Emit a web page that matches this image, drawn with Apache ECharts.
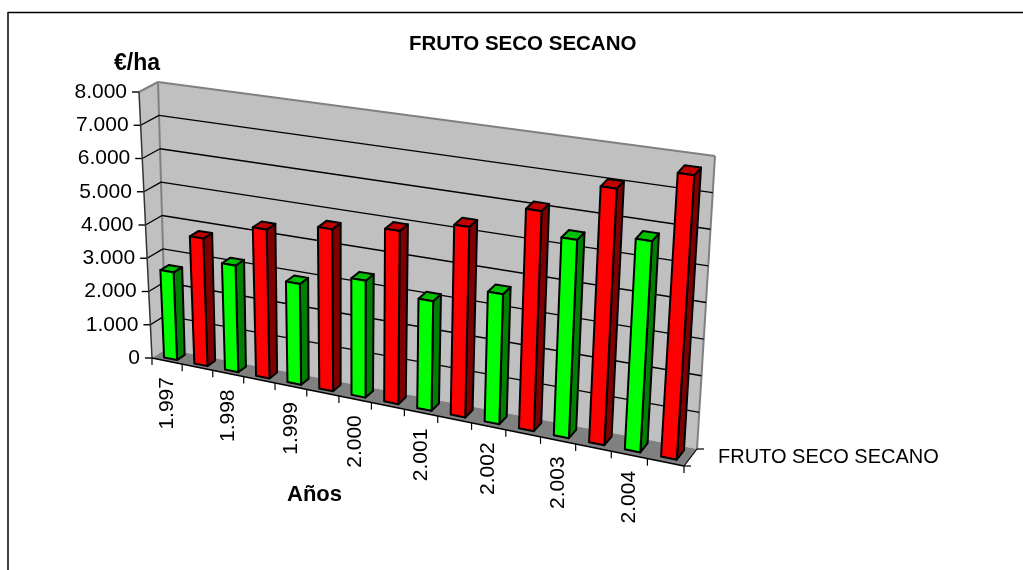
<!DOCTYPE html>
<html>
<head>
<meta charset="utf-8">
<title>FRUTO SECO SECANO</title>
<style>
  html, body { margin: 0; padding: 0; background: #fff; }
  #chart { width: 1023px; height: 570px; }
</style>
<script src="https://cdn.jsdelivr.net/npm/echarts@6/dist/echarts.min.js"></script>
</head>
<body>
<div id="chart"></div>
<script>
const chartTitle = 'FRUTO SECO SECANO'
const seriesNames = ['FRUTO SECO SECANO']
const yName = '€/ha'
const xName = 'Años'
const years = ['1.997', '1.998', '1.999', '2.000', '2.001', '2.002', '2.003', '2.004']
const greenValues = [2620, 3150, 2940, 3365, 3115, 3650, 5490, 5770]
const redValues = [3790, 4370, 4690, 4955, 5380, 6135, 7060, 7720]
const yTicks = [0, 1000, 2000, 3000, 4000, 5000, 6000, 7000, 8000]
const yTickLabels = ['0', '1.000', '2.000', '3.000', '4.000', '5.000', '6.000', '7.000', '8.000']

const fontFamily = '"Liberation Sans", Arial, sans-serif'

// each year takes two slots on the category axis, only the first one has a label
const slots = []
years.forEach(y => { slots.push(y); slots.push('') })
const barData = (values, offset) => values.map((v, i) => [i * 2 + offset, v])

// corners of the 3d box on screen: front (d=0) and back (d=1) plane
const box = {
  front: { bl: [152, 358], tl: [139, 92], br: [684, 466], tr: [703, 170] },
  back: { bl: [166, 349], tl: [158, 82], br: [697, 449], tr: [715, 156] }
}
const widthPersp = 1.108 // slots get wider to the right
const barRatio = 0.43
const barDepth = [0.25, 0.8]

function persp(u) {
  return u / (u + widthPersp * (1 - u))
}
function mix(a, b, t) {
  return [a[0] + (b[0] - a[0]) * t, a[1] + (b[1] - a[1]) * t]
}
// u along the categories, v along the values, d into the depth (all 0..1)
function project(u, v, d) {
  const s = persp(u)
  const f = mix(mix(box.front.bl, box.front.br, s), mix(box.front.tl, box.front.tr, s), v)
  const b = mix(mix(box.back.bl, box.back.br, s), mix(box.back.tl, box.back.tr, s), v)
  return mix(f, b, d)
}
function poly(points, fill, stroke, lineWidth) {
  return {
    type: 'polygon',
    shape: { points },
    style: { fill, stroke: stroke || 'none', lineWidth: lineWidth || 0, lineJoin: 'round' }
  }
}
function line(a, b, stroke, lineWidth) {
  return {
    type: 'line',
    shape: { x1: a[0], y1: a[1], x2: b[0], y2: b[1] },
    style: { stroke, lineWidth }
  }
}
function label(text, x, y, align, size, weight, rotation) {
  return {
    type: 'text',
    x,
    y,
    rotation: rotation || 0,
    style: {
      text,
      x: 0,
      y: 0,
      fill: '#000',
      align,
      verticalAlign: 'middle',
      font: (weight || 'normal') + ' ' + size + 'px ' + fontFamily
    }
  }
}

function renderWalls() {
  const wallColor = '#c0c0c0'
  const edge = '#808080'
  return {
    type: 'group',
    children: [
      poly([project(0, 0, 0), project(0, 1, 0), project(0, 1, 1), project(0, 0, 1)], wallColor),
      poly([project(0, 0, 1), project(0, 1, 1), project(1, 1, 1), project(1, 0, 1)], wallColor),
      poly([project(0, 0, 0), project(0, 0, 1), project(1, 0, 1), project(1, 0, 0)], '#808080'),
      line(project(0, 1, 0), project(0, 1, 1), edge, 2),
      line(project(0, 1, 1), project(1, 1, 1), edge, 2),
      line(project(0, 1, 1), project(0, 0, 1), edge, 2),
      line(project(1, 1, 1), project(1, 0, 1), edge, 2)
    ]
  }
}

function renderYTick(params, api) {
  const cs = params.coordSys
  const c = api.coord([0, api.value(0)])
  const v = (cs.y + cs.height - c[1]) / cs.height
  const front = project(0, v, 0)
  const children = [line([front[0] - 7, front[1]], front, '#000', 1.4)]
  if (v > 0 && v < 1) {
    children.push(line(front, project(0, v, 1), '#000', 1.4))
    children.push(line(project(0, v, 1), project(1, v, 1), '#000', 1.4))
  }
  children.push(label(yTickLabels[params.dataIndex], front[0] - 12, front[1], 'right', 21))
  return { type: 'group', children }
}

function renderFrontAxes(params, api) {
  const children = [
    line(project(0, 0, 0), project(0, 1, 0), '#333', 1.5),
    line(project(0, 0, 0), project(1, 0, 0), '#000', 1.6),
    line(project(1, 0, 0), project(1, 0, 1), '#000', 1.2)
  ]
  const r0 = project(1, 0, 0)
  const r1 = project(1, 0, 1)
  children.push(line(r0, [r0[0] + 7, r0[1]], '#000', 1.2))
  children.push(line(r1, [r1[0] + 7, r1[1]], '#000', 1.2))
  children.push(label(seriesNames[0], 718, 457, 'left', 20))
  return { type: 'group', children }
}

function renderXTick(params, api) {
  const cs = params.coordSys
  const i = api.value(0)
  const c = api.coord([i, 0])
  const slot = api.size([1, 0])[0]
  const left = project((c[0] - slot / 2 - cs.x) / cs.width, 0, 0)
  const children = [line(left, [left[0], left[1] + 7], '#000', 1.2)]
  if (i === slots.length - 1) {
    const right = project(1, 0, 0)
    children.push(line(right, [right[0], right[1] + 7], '#000', 1.2))
  }
  if (slots[i]) {
    const mid = project((c[0] - cs.x) / cs.width, 0, 0)
    children.push(label(slots[i], mid[0], mid[1] + 16, 'right', 21, 'normal', Math.PI / 2))
  }
  return { type: 'group', children }
}

function barRenderer(colors) {
  return function (params, api) {
    const cs = params.coordSys
    const c = api.coord([api.value(0), api.value(1)])
    const slot = api.size([1, 0])[0]
    const u = (c[0] - cs.x) / cs.width
    const du = slot * barRatio / 2 / cs.width
    const v = (cs.y + cs.height - c[1]) / cs.height
    const d0 = barDepth[0]
    const d1 = barDepth[1]
    const l = u - du
    const r = u + du
    return {
      type: 'group',
      children: [
        poly([project(r, 0, d0), project(r, v, d0), project(r, v, d1), project(r, 0, d1)], colors.side, '#000', 2),
        poly([project(l, v, d0), project(r, v, d0), project(r, v, d1), project(l, v, d1)], colors.top, '#000', 2),
        poly([project(l, 0, d0), project(l, v, d0), project(r, v, d0), project(r, 0, d0)], colors.front, '#000', 2)
      ]
    }
  }
}

const chart = echarts.init(document.getElementById('chart'))
chart.setOption({
  animation: false,
  backgroundColor: '#fff',
  title: {
    text: chartTitle,
    left: 404,
    top: 29,
    textStyle: { fontFamily, fontSize: 20.5, fontWeight: 'bold', color: '#000' }
  },
  graphic: [
    { type: 'line', shape: { x1: 8, y1: 12.5, x2: 1023, y2: 12.5 }, style: { stroke: '#000', lineWidth: 1.5 } },
    { type: 'line', shape: { x1: 8, y1: 12, x2: 8, y2: 570 }, style: { stroke: '#000', lineWidth: 1.5 } },
    label(yName, 114, 64, 'left', 23, 'bold'),
    label(xName, 287, 495, 'left', 22, 'bold')
  ],
  grid: { left: 152, top: 92, width: 532, height: 266 },
  xAxis: { type: 'category', data: slots, show: false },
  yAxis: { type: 'value', min: 0, max: 8000, interval: 1000, show: false },
  series: [
    { type: 'custom', name: 'walls', silent: true, z: 1, data: [[0]], renderItem: renderWalls },
    { type: 'custom', name: 'yticks', silent: true, z: 2, data: yTicks.map(v => [v]), encode: { y: 0 }, renderItem: renderYTick },
    { type: 'custom', name: 'frontaxes', silent: true, z: 3, data: [[0]], renderItem: renderFrontAxes },
    { type: 'custom', name: 'xticks', silent: true, z: 3, data: slots.map((s, i) => [i]), encode: { x: 0 }, renderItem: renderXTick },
    {
      type: 'custom', name: 'green', z: 4, silent: true, encode: { x: 0, y: 1 },
      data: barData(greenValues, 0),
      renderItem: barRenderer({ front: '#00ff00', side: '#008000', top: '#00c000' })
    },
    {
      type: 'custom', name: 'red', z: 4, silent: true, encode: { x: 0, y: 1 },
      data: barData(redValues, 1),
      renderItem: barRenderer({ front: '#ff0000', side: '#800000', top: '#c00000' })
    }
  ]
})
</script>
</body>
</html>
